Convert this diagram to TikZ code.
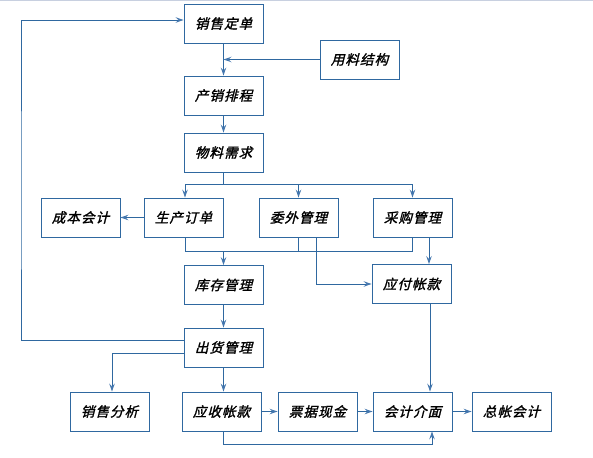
\documentclass[tikz,border=0pt]{standalone}
\usepackage{fontspec}
\newfontfamily\cjk[FakeSlant=0.25,FakeBold=1.6,LetterSpace=8]{Noto Sans CJK SC}
\usetikzlibrary{arrows.meta}
\definecolor{boxblue}{RGB}{47,104,160}
\definecolor{tipblue}{RGB}{70,120,175}
\definecolor{toprule}{RGB}{200,208,224}
\tikzset{
  every node/.style={inner sep=0},
  stage/.style={draw=boxblue,line width=0.9pt,minimum width=79pt,minimum height=39pt,font=\cjk\fontsize{13.5pt}{13.5pt}\selectfont},
  flow/.style={draw=boxblue,line width=0.9pt},
  >={Stealth[length=8pt,width=5.5pt,inset=3pt,color=tipblue]}
}
\begin{document}
\begin{tikzpicture}[x=1pt,y=-1pt]
            \useasboundingbox (0,0) rectangle (593,457);
            \draw[toprule,line width=1.5pt] (0,0.5) -- (593,0.5);

            \node[stage] (order) at (223.5,23.5){销售定单};
            \node[stage] (bom) at (359.5,59.5){用料结构};
            \node[stage] (sched) at (223.5,95.5){产销排程};
            \node[stage] (mrp) at (223.5,152.5){物料需求};
            \node[stage] (cost) at (80.5,217.5){成本会计};
            \node[stage] (prod) at (183.5,217.5){生产订单};
            \node[stage] (outs) at (298.5,217.5){委外管理};
            \node[stage] (purch) at (412.5,217.5){采购管理};
            \node[stage] (stock) at (223.5,285){库存管理};
            \node[stage] (pay) at (411.5,284){应付帐款};
            \node[stage] (ship) at (223.5,347.5){出货管理};
            \node[stage] (sales) at (109.5,411.5){销售分析};
            \node[stage] (recv) at (221.5,411.5){应收帐款};
            \node[stage] (cash) at (317.5,411.5){票据现金};
            \node[stage] (acct) at (412.5,411.5){会计介面};
            \node[stage] (ledger) at (511.5,411.5){总帐会计};

            \coordinate (fork) at (223.5,184);
            \coordinate (merge) at (223.5,251);
            \coordinate (loop) at (21,200);
            \coordinate (bottom) at (432,444);

            \draw[flow,->] (order) -- (sched);
            \draw[flow,->] (bom) -- (bom -| order);
            \draw[flow,->] (sched) -- (mrp);
            \draw[flow] (mrp) -- (fork);
            \draw[flow,->] (fork) -| ([xshift=1.5pt]prod.north);
            \draw[flow,->] (fork) -| (outs);
            \draw[flow,->] (fork) -| (purch);
            \draw[flow,->] (prod) -- (cost);
            \draw[flow] ([xshift=1.5pt]prod.south) |- (merge);
            \draw[flow] (outs) |- (merge);
            \draw[flow] (purch) |- (merge);
            \draw[flow,->] (merge) -- (stock);
            \draw[flow,->] ([xshift=17.5pt]outs.south) |- (pay.west);
            \draw[flow,->] ([xshift=16.5pt]purch.south) -- ([xshift=16.5pt]purch.south |- pay.north);
            \draw[flow,->] ([xshift=18.5pt]pay.south) -- ([xshift=18.5pt]pay.south |- acct.north);
            \draw[flow,->] (stock) -- (ship);
            \draw[flow,->] ([yshift=7.5pt]ship.west) -| (loop) |- ([yshift=3.5pt]order.west);
            \draw[flow,->] ([yshift=-5.5pt]ship.west) -| ([xshift=2.5pt]sales.north);
            \draw[flow,->] (ship) -- (ship |- recv.north);
            \draw[flow,->] (recv) -- (cash);
            \draw[flow,->] (cash) -- (acct);
            \draw[flow,->] (acct) -- (ledger);
            \draw[flow,->] ([xshift=1.5pt]recv.south) |- (bottom) -- (bottom |- acct.south);
        \end{tikzpicture}
\end{document}
